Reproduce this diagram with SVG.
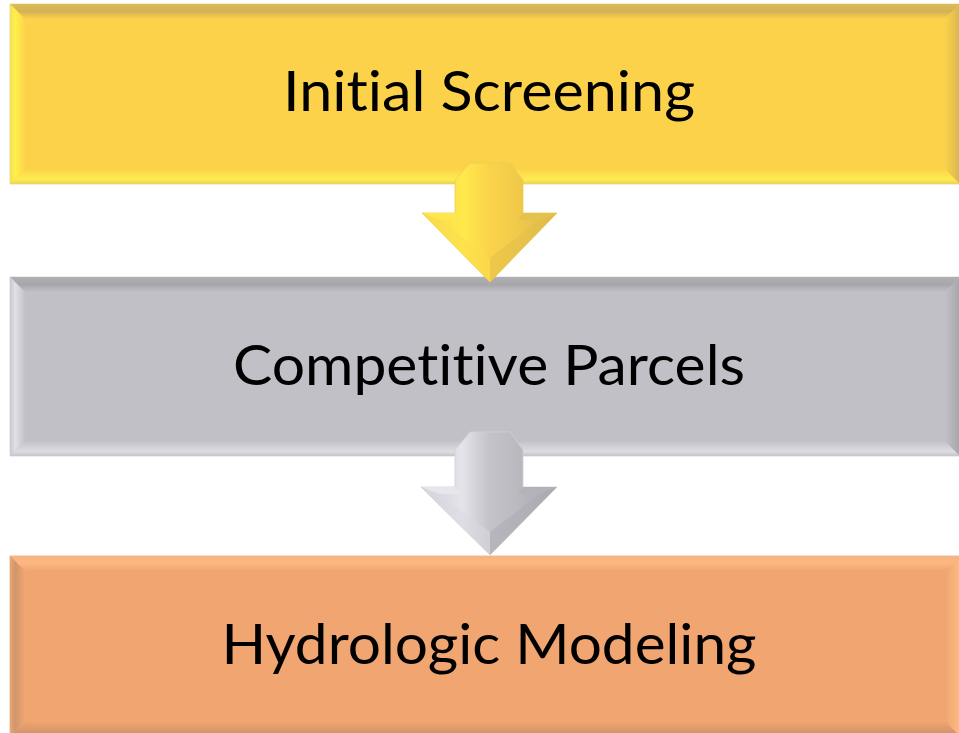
<svg xmlns="http://www.w3.org/2000/svg" width="959" height="733" viewBox="0 0 959 733">
  <style>
    .label { font-family: Lato, "Liberation Sans", sans-serif; font-size: 56px; fill: #000; text-anchor: middle; font-variant-ligatures: none; font-feature-settings: "liga" 0, "clig" 0, "dlig" 0, "calt" 0; }
    .edge-y { stroke: #efe3b0; stroke-width: 1.2; }
    .edge-g { stroke: #e2e2e6; stroke-width: 1.2; }
    .edge-o { stroke: #f5c9a6; stroke-width: 1.2; }
  </style>
  <defs>
    <!-- yellow bevels -->
    <linearGradient id="yTop" x1="0" y1="0" x2="0" y2="1"><stop offset="0" stop-color="#dcbc58"/><stop offset="0.5" stop-color="#d4b254"/><stop offset="1" stop-color="#fcd24b"/></linearGradient>
    <linearGradient id="yLeft" x1="0" y1="0" x2="1" y2="0"><stop offset="0" stop-color="#f3df5a"/><stop offset="0.35" stop-color="#fff04a"/><stop offset="1" stop-color="#fcd44b"/></linearGradient>
    <linearGradient id="yBottom" x1="0" y1="0" x2="0" y2="1"><stop offset="0" stop-color="#fcd44b"/><stop offset="0.7" stop-color="#ffec4e"/><stop offset="1" stop-color="#e7d060"/></linearGradient>
    <linearGradient id="yRight" x1="0" y1="0" x2="1" y2="0"><stop offset="0" stop-color="#fcd24b"/><stop offset="1" stop-color="#d6b550"/></linearGradient>
    <!-- gray bevels -->
    <linearGradient id="gTop" x1="0" y1="0" x2="0" y2="1"><stop offset="0" stop-color="#b0afb4"/><stop offset="0.5" stop-color="#a7a6ab"/><stop offset="1" stop-color="#c1c0c6"/></linearGradient>
    <linearGradient id="gLeft" x1="0" y1="0" x2="1" y2="0"><stop offset="0" stop-color="#c8c8ce"/><stop offset="0.35" stop-color="#e0e0e8"/><stop offset="1" stop-color="#c3c2c8"/></linearGradient>
    <linearGradient id="gBottom" x1="0" y1="0" x2="0" y2="1"><stop offset="0" stop-color="#c3c2c8"/><stop offset="0.7" stop-color="#dcdce2"/><stop offset="1" stop-color="#c4c4c9"/></linearGradient>
    <linearGradient id="gRight" x1="0" y1="0" x2="1" y2="0"><stop offset="0" stop-color="#c1c0c6"/><stop offset="1" stop-color="#a6a5ab"/></linearGradient>
    <!-- orange bevels -->
    <linearGradient id="oTop" x1="0" y1="0" x2="0" y2="1"><stop offset="0" stop-color="#f4b386"/><stop offset="0.45" stop-color="#fdb880"/><stop offset="1" stop-color="#f1a571"/></linearGradient>
    <linearGradient id="oLeft" x1="0" y1="0" x2="1" y2="0"><stop offset="0" stop-color="#e6a777"/><stop offset="0.35" stop-color="#d0966b"/><stop offset="1" stop-color="#f0a571"/></linearGradient>
    <linearGradient id="oBottom" x1="0" y1="0" x2="0" y2="1"><stop offset="0" stop-color="#f1a571"/><stop offset="1" stop-color="#cc9167"/></linearGradient>
    <linearGradient id="oRight" x1="0" y1="0" x2="1" y2="0"><stop offset="0" stop-color="#f1a571"/><stop offset="1" stop-color="#fdbb82"/></linearGradient>
    <!-- arrow bodies -->
    <linearGradient id="yArrow" x1="0" y1="0" x2="1" y2="0"><stop offset="0" stop-color="#f5d64c"/><stop offset="0.3" stop-color="#ffe94c"/><stop offset="0.5" stop-color="#fbd34b"/><stop offset="0.72" stop-color="#f0c94a"/><stop offset="1" stop-color="#d8b64e"/></linearGradient>
    <linearGradient id="gArrow" x1="0" y1="0" x2="1" y2="0"><stop offset="0" stop-color="#cfcfd5"/><stop offset="0.3" stop-color="#e4e4ea"/><stop offset="0.5" stop-color="#c4c3c9"/><stop offset="0.72" stop-color="#bab9bf"/><stop offset="1" stop-color="#a8a7ad"/></linearGradient>
  </defs>

  <!-- step 1 -->
  <g id="initial-screening">
    <rect x="10" y="4" width="950" height="180" fill="#fcd24b" class="edge-y"/>
    <polygon points="10,4 960,4 945,19 25,19" fill="url(#yTop)"/>
    <polygon points="10,4 25,19 25,169 10,184" fill="url(#yLeft)"/>
    <polygon points="25,169 945,169 960,184 10,184" fill="url(#yBottom)"/>
    <polygon points="945,19 960,4 960,184 945,169" fill="url(#yRight)"/>
    <text class="label" x="489" y="111" textLength="412" lengthAdjust="spacingAndGlyphs">Initial Screening</text>
  </g>

  <!-- step 2 -->
  <g id="competitive-parcels">
    <rect x="10" y="277" width="950" height="179" fill="#c1c0c6" class="edge-g"/>
    <polygon points="10,277 960,277 945,292 25,292" fill="url(#gTop)"/>
    <polygon points="10,277 25,292 25,441 10,456" fill="url(#gLeft)"/>
    <polygon points="25,441 945,441 960,456 10,456" fill="url(#gBottom)"/>
    <polygon points="945,292 960,277 960,456 945,441" fill="url(#gRight)"/>
    <text class="label" x="489" y="385" textLength="512" lengthAdjust="spacingAndGlyphs">Competitive Parcels</text>
  </g>

  <!-- step 3 -->
  <g id="hydrologic-modeling">
    <rect x="10" y="556" width="950" height="180" fill="#f1a571" class="edge-o"/>
    <polygon points="10,556 960,556 945,571 25,571" fill="url(#oTop)"/>
    <polygon points="10,556 25,571 25,721 10,736" fill="url(#oLeft)"/>
    <polygon points="25,721 945,721 960,736 10,736" fill="url(#oBottom)"/>
    <polygon points="945,571 960,556 960,736 945,721" fill="url(#oRight)"/>
    <text class="label" x="489" y="664" textLength="535" lengthAdjust="spacingAndGlyphs">Hydrologic Modeling</text>
  </g>

  <!-- down arrows between steps -->
  <g id="connectors">
    <g id="arrow-1">
      <polygon points="470,163 510,163 523,180 523,213 557,213 490,282 422,213 455,213 455,180" fill="url(#yArrow)" stroke="#e9cf52" stroke-width="0.8"/>
      <polygon points="422,213 455,213 462,220 440,220" fill="#fde64e"/>
      <polygon points="523,213 557,213 540,220 518,220" fill="#e5c24c"/>
      <polygon points="440,220 490,258 490,282 422,213" fill="#fbdc4c" opacity="0.55"/>
      <polygon points="540,220 490,258 490,282 557,213" fill="#e2bf4b" opacity="0.55"/>
    </g>
    <g id="arrow-2">
      <polygon points="470,432 510,432 523,450 523,487 557,487 490,555 421,487 455,487 455,450" fill="url(#gArrow)" stroke="#d0d0d6" stroke-width="0.8"/>
      <polygon points="421,487 455,487 462,494 439,494" fill="#e6e6ec"/>
      <polygon points="523,487 557,487 540,494 518,494" fill="#b3b2b8"/>
      <polygon points="439,494 490,532 490,555 421,487" fill="#d9d9df" opacity="0.55"/>
      <polygon points="540,494 490,532 490,555 557,487" fill="#adacb2" opacity="0.55"/>
    </g>
  </g>
</svg>
